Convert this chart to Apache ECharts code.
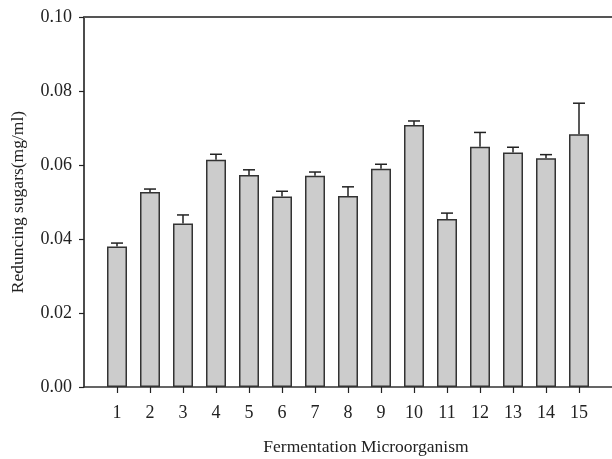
<!DOCTYPE html>
<html>
<head>
<meta charset="utf-8">
<script src="https://cdn.jsdelivr.net/npm/echarts@6/dist/echarts.min.js"></script>
<style>
  html, body { margin: 0; padding: 0; background: #fff; }
  #chart { width: 612px; height: 459px; }
</style>
</head>
<body>
<div id="chart"></div>
<script>
// Microorganism numbers along the x axis
const categories = ['1', '2', '3', '4', '5', '6', '7', '8', '9', '10', '11', '12', '13', '14', '15'];
// Mean reducing sugar content (mg/ml)
const means = [0.0380, 0.0527, 0.0442, 0.0614, 0.0573, 0.0515, 0.0571, 0.0516, 0.0590, 0.0708, 0.0454, 0.0649, 0.0634, 0.0618, 0.0683];
// Standard deviations (upper error bars)
const errors = [0.0009, 0.0008, 0.0023, 0.0015, 0.0014, 0.0014, 0.0010, 0.0025, 0.0012, 0.0011, 0.0016, 0.0039, 0.0014, 0.0010, 0.0084];
// Y axis range
const yMin = 0, yMax = 0.10, yStep = 0.02;

const font = '"Liberation Serif", "DejaVu Serif", serif';
const positions = categories.map(Number);

const chart = echarts.init(document.getElementById('chart'), null, { renderer: 'canvas' });

chart.setOption({
  backgroundColor: '#ffffff',
  animation: false,
  grid: { left: 84, top: 17, right: -1, bottom: 72, containLabel: false },
  xAxis: [
    {
      type: 'value',
      min: 0,
      max: categories.length + 1,
      position: 'bottom',
      splitLine: { show: false },
      axisLine: { show: true, onZero: false, lineStyle: { color: '#333', width: 1.5 } },
      axisTick: { show: true, length: 6, customValues: positions, lineStyle: { color: '#222', width: 1.2 } },
      axisLabel: {
        customValues: positions,
        formatter: v => String(v),
        fontFamily: font, fontSize: 18, color: '#222', margin: 17
      }
    },
    {
      type: 'value',
      min: 0,
      max: categories.length + 1,
      position: 'top',
      splitLine: { show: false },
      axisLine: { show: true, onZero: false, lineStyle: { color: '#555', width: 2 } },
      axisTick: { show: false },
      axisLabel: { show: false }
    }
  ],
  yAxis: {
    type: 'value',
    min: yMin,
    max: yMax,
    interval: yStep,
    name: 'Reduncing sugars(mg/ml)',
    nameLocation: 'middle',
    nameGap: 57,
    nameTextStyle: { fontFamily: font, fontSize: 17.5, color: '#222' },
    splitLine: { show: false },
    axisLine: { show: true, onZero: false, lineStyle: { color: '#111', width: 1.5 } },
    axisTick: { show: true, length: 5, lineStyle: { color: '#222', width: 1.2 } },
    axisLabel: {
      formatter: v => v.toFixed(2),
      fontFamily: font, fontSize: 18, color: '#222', margin: 12
    }
  },
  graphic: [
    {
      type: 'text',
      x: 366, y: 447,
      style: {
        text: 'Fermentation Microorganism',
        font: '17.5px ' + font,
        fill: '#222',
        align: 'center',
        verticalAlign: 'middle'
      }
    }
  ],
  series: [
    {
      type: 'custom',
      name: 'error',
      z: 1,
      renderItem: (params, api) => {
        const x = api.value(0);
        const base = api.coord([x, api.value(1)]);
        const top = api.coord([x, api.value(2)]);
        const half = 6;
        return {
          type: 'group',
          children: [
            { type: 'line', shape: { x1: base[0], y1: base[1], x2: top[0], y2: top[1] }, style: { stroke: '#222', lineWidth: 1.5 } },
            { type: 'line', shape: { x1: top[0] - half, y1: top[1], x2: top[0] + half, y2: top[1] }, style: { stroke: '#222', lineWidth: 1.5 } }
          ]
        };
      },
      data: positions.map((p, i) => [p, means[i], means[i] + errors[i]])
    },
    {
      type: 'bar',
      name: 'mean',
      z: 2,
      barWidth: 20,
      itemStyle: { color: '#cccccc', borderColor: '#333', borderWidth: 1.5 },
      data: positions.map((p, i) => [p, means[i]])
    }
  ]
});
</script>
</body>
</html>
